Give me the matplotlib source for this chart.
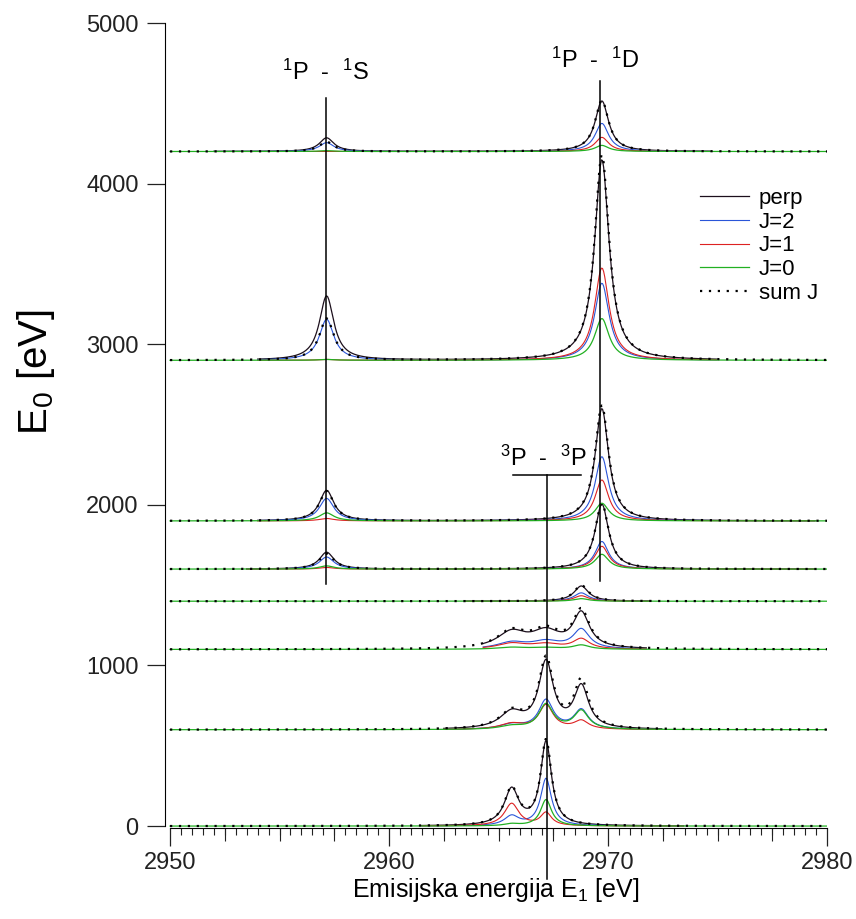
import numpy as np
import matplotlib.pyplot as plt
from matplotlib.ticker import MultipleLocator

plt.rcParams['font.family'] = ['Liberation Sans', 'DejaVu Sans']
plt.rcParams['mathtext.default'] = 'regular'

# vertical offsets of the spectra (E0, eV)
offsets = [0, 600, 1100, 1400, 1600, 1900, 2900, 4200]

# line positions (eV): 1S, 3P a, 3P b, 3P c, 1D
peak_pos = [2957.15, 2965.6, 2967.17, 2968.78, 2969.72]

# line widths (FWHM, eV) for each spectrum
peak_fwhm = [[0.8, 0.8, 0.6, 0.75, 0.75],
             [0.8, 1.3, 0.8, 0.8, 0.75],
             [0.8, 1.6, 1.6, 0.9, 0.75],
             [0.8, 1.0, 1.0, 0.8, 0.75],
             [0.8, 0.8, 0.8, 0.8, 0.75],
             [0.8, 0.8, 0.8, 0.8, 0.75],
             [0.8, 0.8, 0.8, 0.8, 0.8],
             [0.8, 0.8, 0.8, 0.8, 0.75]]

# peak heights for each spectrum (rows follow offsets, columns follow peak_pos)
perp_amp = [[0, 225, 520, 0, 0],
            [0, 100, 410, 260, 0],
            [0, 100, 100, 215, 0],
            [0, 0, 0, 95, 0],
            [105, 0, 0, 0, 405],
            [190, 0, 0, 0, 700],
            [400, 0, 0, 0, 1250],
            [85, 0, 0, 0, 315]]
j2_amp = [[0, 60, 295, 0, 0],
          [0, 30, 180, 120, 0],
          [0, 40, 45, 120, 0],
          [0, 0, 0, 52, 0],
          [75, 0, 0, 0, 172],
          [140, 0, 0, 0, 400],
          [255, 0, 0, 0, 480],
          [55, 0, 0, 0, 175]]
j1_amp = [[0, 140, 80, 0, 0],
          [0, 35, 150, 52, 0],
          [0, 35, 30, 62, 0],
          [0, 0, 0, 34, 0],
          [10, 0, 0, 0, 142],
          [15, 0, 0, 0, 255],
          [5, 0, 0, 0, 575],
          [0, 0, 0, 0, 88]]
j0_amp = [[0, 12, 165, 0, 0],
          [0, 20, 155, 115, 0],
          [0, 12, 10, 26, 0],
          [0, 0, 0, 16, 0],
          [20, 0, 0, 0, 92],
          [50, 0, 0, 0, 110],
          [5, 0, 0, 0, 260],
          [5, 0, 0, 0, 38]]
sum_amp = [[0, 230, 530, 0, 0],
           [0, 105, 430, 295, 0],
           [0, 105, 110, 230, 0],
           [0, 0, 0, 100, 0],
           [95, 0, 0, 0, 410],
           [185, 0, 0, 0, 720],
           [260, 0, 0, 0, 1280],
           [60, 0, 0, 0, 318]]

# energy window where perp / J=2 / J=1 were measured
span_lo = [2961.5, 2962.5, 2964.3, 2963.5, 2953.5, 2954.0, 2954.0, 2952.0]
span_hi = [2973.5, 2972.5, 2971.8, 2972.0, 2979.5, 2979.5, 2975.0, 2974.7]

# transition markers
line_1S = 2957.1
line_1D = 2969.65
line_3P = 2967.2

e1 = np.arange(2950, 2980.001, 0.05)


def spectrum(amps, widths, off):
    y = np.full_like(e1, float(off))
    for a, c, w in zip(amps, peak_pos, widths):
        y += a / (1 + ((e1 - c) / (w / 2)) ** 2)
    return y


fig = plt.figure(figsize=(8.56, 9.19), dpi=100)
ax = fig.add_axes([165 / 856, 91 / 919, 662 / 856, 805 / 919])

c_perp, c_j2, c_j1, c_j0 = '#1c0f1c', '#2a55d8', '#dd2222', '#22b022'

for i, off in enumerate(offsets):
    win = (e1 >= span_lo[i]) & (e1 <= span_hi[i])
    w = peak_fwhm[i]
    first = i == 0
    ax.plot(e1[win], spectrum(perp_amp[i], w, off)[win], color=c_perp, lw=0.9,
            label='perp' if first else None)
    ax.plot(e1[win], spectrum(j2_amp[i], w, off)[win], color=c_j2, lw=0.8,
            label='J=2' if first else None)
    ax.plot(e1[win], spectrum(j1_amp[i], w, off)[win], color=c_j1, lw=0.8,
            label='J=1' if first else None)
    ax.plot(e1, spectrum(j0_amp[i], w, off), color=c_j0, lw=0.9,
            label='J=0' if first else None)
    ax.plot(e1, spectrum(sum_amp[i], w, off), color='black', lw=1.6,
            ls=(0, (1, 3)), label='sum J' if first else None)

# transition markers and labels
ax.plot([line_1S, line_1S], [1510, 4530], color='black', lw=1.1)
ax.plot([line_1D, line_1D], [1525, 4640], color='black', lw=1.1)
ax.plot([line_3P, line_3P], [-330, 2183], color='black', lw=1.1, clip_on=False)
ax.plot([2965.65, 2968.75], [2183, 2183], color='black', lw=1.1)
ax.text(2957.1, 4690, '$^1$P  -  $^1$S', ha='center', va='center', fontsize=17)
ax.text(2969.4, 4765, '$^1$P  -  $^1$D', ha='center', va='center', fontsize=17)
ax.text(2967.05, 2290, '$^3$P  -  $^3$P', ha='center', va='center', fontsize=17)

ax.set_xlim(2949.77, 2980)
ax.set_ylim(-12, 5000)
for s in ['top', 'right']:
    ax.spines[s].set_visible(False)
ax.spines['bottom'].set_bounds(2950, 2980)
ax.spines['left'].set_bounds(0, 5000)

ax.set_xticks([2950, 2960, 2970, 2980])
ax.xaxis.set_minor_locator(MultipleLocator(0.5))
ax.set_yticks([0, 1000, 2000, 3000, 4000, 5000])
ax.tick_params(axis='both', which='major', direction='out', length=13,
               width=0.9, labelsize=17, colors='#222222')
ax.tick_params(axis='x', which='major', pad=4)
ax.tick_params(axis='y', which='major', pad=6)
ax.tick_params(axis='x', which='minor', direction='out', length=5, width=0.8,
               colors='#222222')

# intermediate ticks every 2.5 eV
mid = ax.secondary_xaxis('bottom')
mid.set_xticks([2952.5, 2955, 2957.5, 2962.5, 2965, 2967.5, 2972.5, 2975, 2977.5])
mid.tick_params(direction='out', length=9, width=0.8, labelbottom=False,
                colors='#222222')
mid.spines['bottom'].set_visible(False)

ax.set_xlabel('Emisijska energija E$_1$ [eV]', fontsize=18, labelpad=2)
ax.set_ylabel('E$_0$ [eV]', fontsize=29)
ax.yaxis.set_label_coords(-0.163, 0.566)

ax.legend(loc='upper left', bbox_to_anchor=(0.808, 0.795), frameon=False,
          fontsize=16, handlelength=2.2, handletextpad=0.45, labelspacing=0.12,
          borderpad=0, borderaxespad=0)

fig.savefig('out.png', dpi=100)
